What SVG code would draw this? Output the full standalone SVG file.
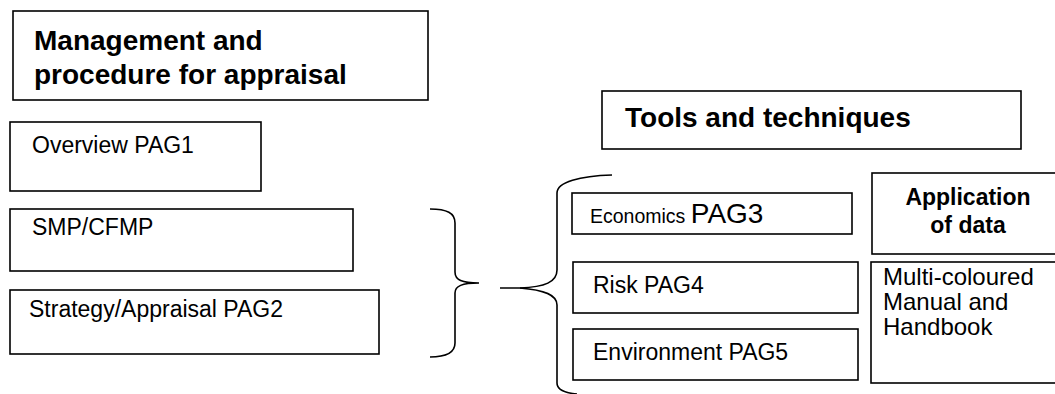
<svg xmlns="http://www.w3.org/2000/svg" width="1055" height="394" viewBox="0 0 1055 394">
<style>
.box{fill:#fff;stroke:#000;stroke-width:1.6}
.t{font-family:"Liberation Sans",Arial,sans-serif;fill:#000}
.b{font-weight:bold}
.brace{fill:none;stroke:#000;stroke-width:1.6}
</style>
<rect width="1055" height="394" fill="#fff"/>
<g id="management">
<rect class="box" x="13" y="11" width="415" height="89"/>
<text class="t b" x="34" y="50" font-size="28">Management and</text>
<text class="t b" x="34" y="84" font-size="28">procedure for appraisal</text>
</g>
<g id="overview">
<rect class="box" x="10" y="122" width="251" height="69"/>
<text class="t" x="32" y="153" font-size="23">Overview PAG1</text>
</g>
<g id="smp">
<rect class="box" x="10" y="209" width="343" height="62"/>
<text class="t" x="32" y="235" font-size="23">SMP/CFMP</text>
</g>
<g id="strategy">
<rect class="box" x="10" y="290" width="369" height="64"/>
<text class="t" x="29" y="317" font-size="23">Strategy/Appraisal PAG2</text>
</g>
<g id="tools">
<rect class="box" x="602" y="91" width="419" height="58"/>
<text class="t b" x="625" y="127" font-size="28">Tools and techniques</text>
</g>
<g id="economics">
<rect class="box" x="572" y="193" width="280" height="41"/>
<text class="t" x="590" y="223"><tspan font-size="19.5">Economics </tspan><tspan font-size="28">PAG3</tspan></text>
</g>
<g id="risk">
<rect class="box" x="573" y="262" width="285" height="51"/>
<text class="t" x="593" y="293" font-size="23">Risk PAG4</text>
</g>
<g id="environment">
<rect class="box" x="573" y="329" width="285" height="51"/>
<text class="t" x="593" y="360" font-size="23">Environment PAG5</text>
</g>
<g id="application">
<rect class="box" x="872" y="173" width="190" height="81"/>
<text class="t b" x="968" y="205" font-size="23" text-anchor="middle">Application</text>
<text class="t b" x="968" y="233" font-size="23" text-anchor="middle">of data</text>
</g>
<g id="manual">
<rect class="box" x="871" y="262" width="191" height="121"/>
<text class="t" x="883" y="285" font-size="24">Multi-coloured</text>
<text class="t" x="883" y="310" font-size="24">Manual and</text>
<text class="t" x="883" y="335" font-size="24">Handbook</text>
</g>
<g id="connectors">
<path class="brace" d="M430 209 C447 209 455 213 455 223 L455 272 C455 280 462 283 479 283 C462 283 455 286 455 293 L455 343 C455 352 447 357 430 357"/>
<path class="brace" d="M500 288 L520 288 C545 287 557 282 557 270 L557 193 C557 182 580 176 612 175"/>
<path class="brace" d="M520 288 C545 290 557 295 557 305 L557 383 C557 390 565 393 577 394"/>
</g>
</svg>
